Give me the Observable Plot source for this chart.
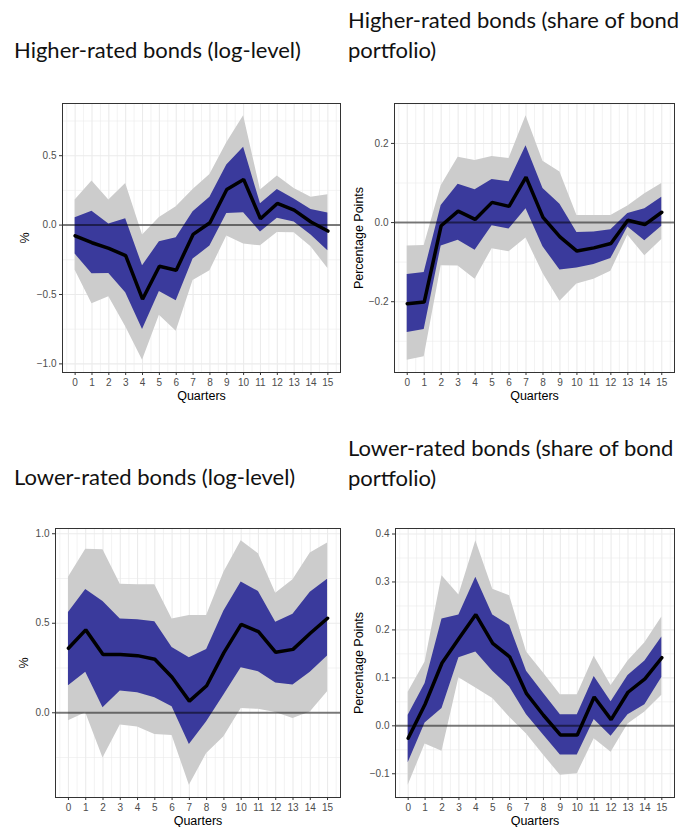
<!DOCTYPE html>
<html>
<head>
<meta charset="utf-8">
<script src="https://cdn.jsdelivr.net/npm/d3@7"></script>
<script src="https://cdn.jsdelivr.net/npm/@observablehq/plot@0.6"></script>
<style>
  html, body { margin: 0; padding: 0; background: #fff; }
  #root { position: relative; width: 682px; height: 827px; overflow: hidden; font-family: "Liberation Sans", Arial, sans-serif; }
  .title { position: absolute; font-family: Lato, "Open Sans", sans-serif; font-size: 22px; line-height: 30px; color: #111; white-space: nowrap; }
  .panel { position: absolute; }
  .panel svg { overflow: visible; }
  g[aria-label="x-axis tick label"], g[aria-label="y-axis tick label"] { fill: #4d4d4d; }
  g[aria-label="x-axis tick"], g[aria-label="y-axis tick"] { stroke: #333; }
  g[aria-label="x-axis label"] text, g[aria-label="y-axis label"] text { font-size: 12.5px; fill: #000; }
</style>
</head>
<body>
<div id="root"></div>
<script>
// ---------- data ----------
const quarters = [0, 1, 2, 3, 4, 5, 6, 7, 8, 9, 10, 11, 12, 13, 14, 15];

// Higher-rated bonds (log-level), %
const hiLogMean = [-0.077, -0.127, -0.168, -0.22, -0.534, -0.296, -0.325, -0.067, 0.017, 0.257, 0.329, 0.046, 0.156, 0.108, 0.022, -0.043];
const hiLogLo68 = [-0.209, -0.351, -0.349, -0.488, -0.752, -0.478, -0.546, -0.245, -0.151, 0.084, 0.089, -0.05, 0.05, 0.022, -0.072, -0.185];
const hiLogHi68 = [0.053, 0.10, 0.007, 0.046, -0.293, -0.12, -0.091, 0.096, 0.2, 0.433, 0.56, 0.154, 0.257, 0.188, 0.113, 0.087];
const hiLogLo90 = [-0.325, -0.567, -0.517, -0.733, -0.974, -0.649, -0.764, -0.399, -0.329, -0.079, -0.137, -0.149, -0.053, -0.055, -0.156, -0.313];
const hiLogHi90 = [0.18, 0.317, 0.18, 0.30, -0.072, 0.055, 0.132, 0.257, 0.365, 0.594, 0.788, 0.252, 0.353, 0.264, 0.2, 0.219];

// Higher-rated bonds (share of bond portfolio), percentage points
const hiShrMean = [-0.205, -0.201, -0.008, 0.029, 0.008, 0.051, 0.041, 0.115, 0.013, -0.036, -0.072, -0.064, -0.053, 0.006, -0.005, 0.026];
const hiShrLo68 = [-0.278, -0.270, -0.059, -0.045, -0.070, -0.008, -0.016, 0.035, -0.061, -0.12, -0.115, -0.106, -0.091, -0.011, -0.046, -0.009];
const hiShrHi68 = [-0.131, -0.126, 0.043, 0.097, 0.083, 0.109, 0.103, 0.194, 0.086, 0.046, -0.025, -0.024, -0.018, 0.023, 0.035, 0.064];
const hiShrLo90 = [-0.348, -0.339, -0.109, -0.110, -0.143, -0.066, -0.074, -0.039, -0.129, -0.199, -0.155, -0.143, -0.123, -0.032, -0.084, -0.043];
const hiShrHi90 = [-0.059, -0.058, 0.093, 0.165, 0.157, 0.167, 0.162, 0.270, 0.155, 0.128, 0.018, 0.018, 0.018, 0.042, 0.073, 0.099];

// Lower-rated bonds (log-level), %
const loLogMean = [0.36, 0.463, 0.326, 0.326, 0.319, 0.299, 0.198, 0.065, 0.151, 0.336, 0.494, 0.453, 0.338, 0.354, 0.444, 0.528];
const loLogLo68 = [0.151, 0.226, 0.028, 0.121, 0.112, 0.084, 0.034, -0.177, -0.05, 0.099, 0.252, 0.229, 0.166, 0.155, 0.226, 0.317];
const loLogHi68 = [0.56, 0.688, 0.621, 0.524, 0.52, 0.509, 0.364, 0.308, 0.354, 0.569, 0.731, 0.677, 0.506, 0.55, 0.673, 0.746];
const loLogLo90 = [-0.045, 0.0, -0.252, -0.069, -0.08, -0.121, -0.127, -0.405, -0.228, -0.134, 0.024, 0.019, 0.002, -0.032, 0.004, 0.118];
const loLogHi90 = [0.757, 0.914, 0.91, 0.718, 0.715, 0.715, 0.524, 0.543, 0.543, 0.785, 0.961, 0.888, 0.668, 0.743, 0.892, 0.948];

// Lower-rated bonds (share of bond portfolio), percentage points
const loShrMean = [-0.026, 0.045, 0.131, 0.182, 0.232, 0.172, 0.144, 0.067, 0.022, -0.019, -0.019, 0.06, 0.013, 0.07, 0.098, 0.142];
const loShrLo68 = [-0.077, 0.006, 0.036, 0.142, 0.154, 0.114, 0.081, 0.023, -0.019, -0.061, -0.061, 0.013, -0.022, 0.023, 0.044, 0.101];
const loShrHi68 = [0.022, 0.088, 0.223, 0.231, 0.31, 0.231, 0.209, 0.114, 0.068, 0.023, 0.023, 0.103, 0.05, 0.105, 0.135, 0.185];
const loShrLo90 = [-0.124, -0.038, -0.053, 0.1, 0.079, 0.057, 0.018, -0.017, -0.061, -0.103, -0.100, -0.027, -0.055, 0.004, 0.029, 0.064];
const loShrHi90 = [0.07, 0.133, 0.313, 0.273, 0.386, 0.285, 0.271, 0.154, 0.11, 0.065, 0.065, 0.145, 0.084, 0.135, 0.173, 0.227];

// tick values
const hiLogTicks = [-1.0, -0.5, 0.0, 0.5];
const hiLogMinor = [-0.75, -0.25, 0.25, 0.75];
const hiShrTicks = [-0.2, 0.0, 0.2];
const hiShrMinor = [-0.3, -0.1, 0.1, 0.3];
const loLogTicks = [0.0, 0.5, 1.0];
const loLogMinor = [-0.25, 0.25, 0.75];
const loShrTicks = [-0.1, 0.0, 0.1, 0.2, 0.3, 0.4];
const loShrMinor = [-0.15, -0.05, 0.05, 0.15, 0.25, 0.35];
const xMinor = [-0.5, 0.5, 1.5, 2.5, 3.5, 4.5, 5.5, 6.5, 7.5, 8.5, 9.5, 10.5, 11.5, 12.5, 13.5, 14.5, 15.5];

const titles = [
  ["Higher-rated bonds (log-level)"],
  ["Higher-rated bonds (share of bond", "portfolio)"],
  ["Lower-rated bonds (log-level)"],
  ["Lower-rated bonds (share of bond", "portfolio)"]
];

// ---------- drawing ----------
function panel({mean, lo68, hi68, lo90, hi90, yTicks, yMinor, yLabel, width, height, ml, mr, mt, mb, yLabelOffset}) {
  const data = quarters.map((q, i) => ({q, mean: mean[i], lo68: lo68[i], hi68: hi68[i], lo90: lo90[i], hi90: hi90[i]}));
  const lo = d3.min(lo90), hi = d3.max(hi90), pad = 0.05 * (hi - lo);
  const xPad = 0.05 * (d3.max(quarters) - d3.min(quarters));
  return Plot.plot({
    width, height,
    marginLeft: ml, marginRight: mr, marginTop: mt, marginBottom: mb,
    style: {fontFamily: "'Liberation Sans', Arial, sans-serif", fontSize: "10px", background: "white"},
    x: {domain: [d3.min(quarters) - xPad, d3.max(quarters) + xPad]},
    y: {domain: [lo - pad, hi + pad]},
    marks: [
      Plot.ruleX(xMinor, {stroke: "#ebebeb", strokeWidth: 0.6}),
      Plot.ruleY(yMinor, {stroke: "#ebebeb", strokeWidth: 0.6}),
      Plot.ruleX(quarters, {stroke: "#ebebeb", strokeWidth: 1.1}),
      Plot.ruleY(yTicks, {stroke: "#ebebeb", strokeWidth: 1.1}),
      Plot.areaY(data, {x: "q", y1: "lo90", y2: "hi90", fill: "#cccccc"}),
      Plot.areaY(data, {x: "q", y1: "lo68", y2: "hi68", fill: "#3a3a9c"}),
      Plot.ruleY([0], {stroke: "#000", strokeOpacity: 0.5, strokeWidth: 2}),
      Plot.lineY(data, {x: "q", y: "mean", stroke: "black", strokeWidth: 3.5, strokeLinejoin: "miter"}),
      Plot.frame({stroke: "#333", strokeWidth: 1}),
      Plot.axisX({ticks: quarters, tickFormat: d => String(d), tickSize: 3, tickPadding: 3,
        label: "Quarters", labelAnchor: "center", labelArrow: "none", labelOffset: 27}),
      Plot.axisY({ticks: yTicks, tickFormat: d3.format(".1f"), tickSize: 3, tickPadding: 3,
        label: yLabel, labelAnchor: "center", labelArrow: "none", labelOffset: yLabelOffset})
    ]
  });
}

const root = document.getElementById("root");
const specs = [
  {left: 0, top: 95, titleLeft: 14, titleTop: 35, ml: 62, mr: 1, yLabel: "%", yLabelOffset: 42,
   mean: hiLogMean, lo68: hiLogLo68, hi68: hiLogHi68, lo90: hiLogLo90, hi90: hiLogHi90, yTicks: hiLogTicks, yMinor: hiLogMinor},
  {left: 341, top: 95, titleLeft: 348, titleTop: 5, ml: 53, mr: 8, yLabel: "Percentage Points", yLabelOffset: 40,
   mean: hiShrMean, lo68: hiShrLo68, hi68: hiShrHi68, lo90: hiShrLo90, hi90: hiShrHi90, yTicks: hiShrTicks, yMinor: hiShrMinor},
  {left: 0, top: 520, titleLeft: 14, titleTop: 462, ml: 55, mr: 1, yLabel: "%", yLabelOffset: 36,
   mean: loLogMean, lo68: loLogLo68, hi68: loLogHi68, lo90: loLogLo90, hi90: loLogHi90, yTicks: loLogTicks, yMinor: loLogMinor},
  {left: 341, top: 520, titleLeft: 348, titleTop: 433, ml: 54, mr: 8, yLabel: "Percentage Points", yLabelOffset: 41,
   mean: loShrMean, lo68: loShrLo68, hi68: loShrHi68, lo90: loShrLo90, hi90: loShrHi90, yTicks: loShrTicks, yMinor: loShrMinor}
];

specs.forEach((s, i) => {
  const t = document.createElement("div");
  t.className = "title";
  t.style.left = s.titleLeft + "px";
  t.style.top = s.titleTop + "px";
  titles[i].forEach((line, j) => {
    if (j > 0) t.appendChild(document.createElement("br"));
    t.appendChild(document.createTextNode(line));
  });
  root.appendChild(t);

  const p = document.createElement("div");
  p.className = "panel";
  p.style.left = s.left + "px";
  p.style.top = s.top + "px";
  p.appendChild(panel({...s, width: 341, height: 307, mt: 8, mb: 30}));
  root.appendChild(p);
});
</script>
</body>
</html>
